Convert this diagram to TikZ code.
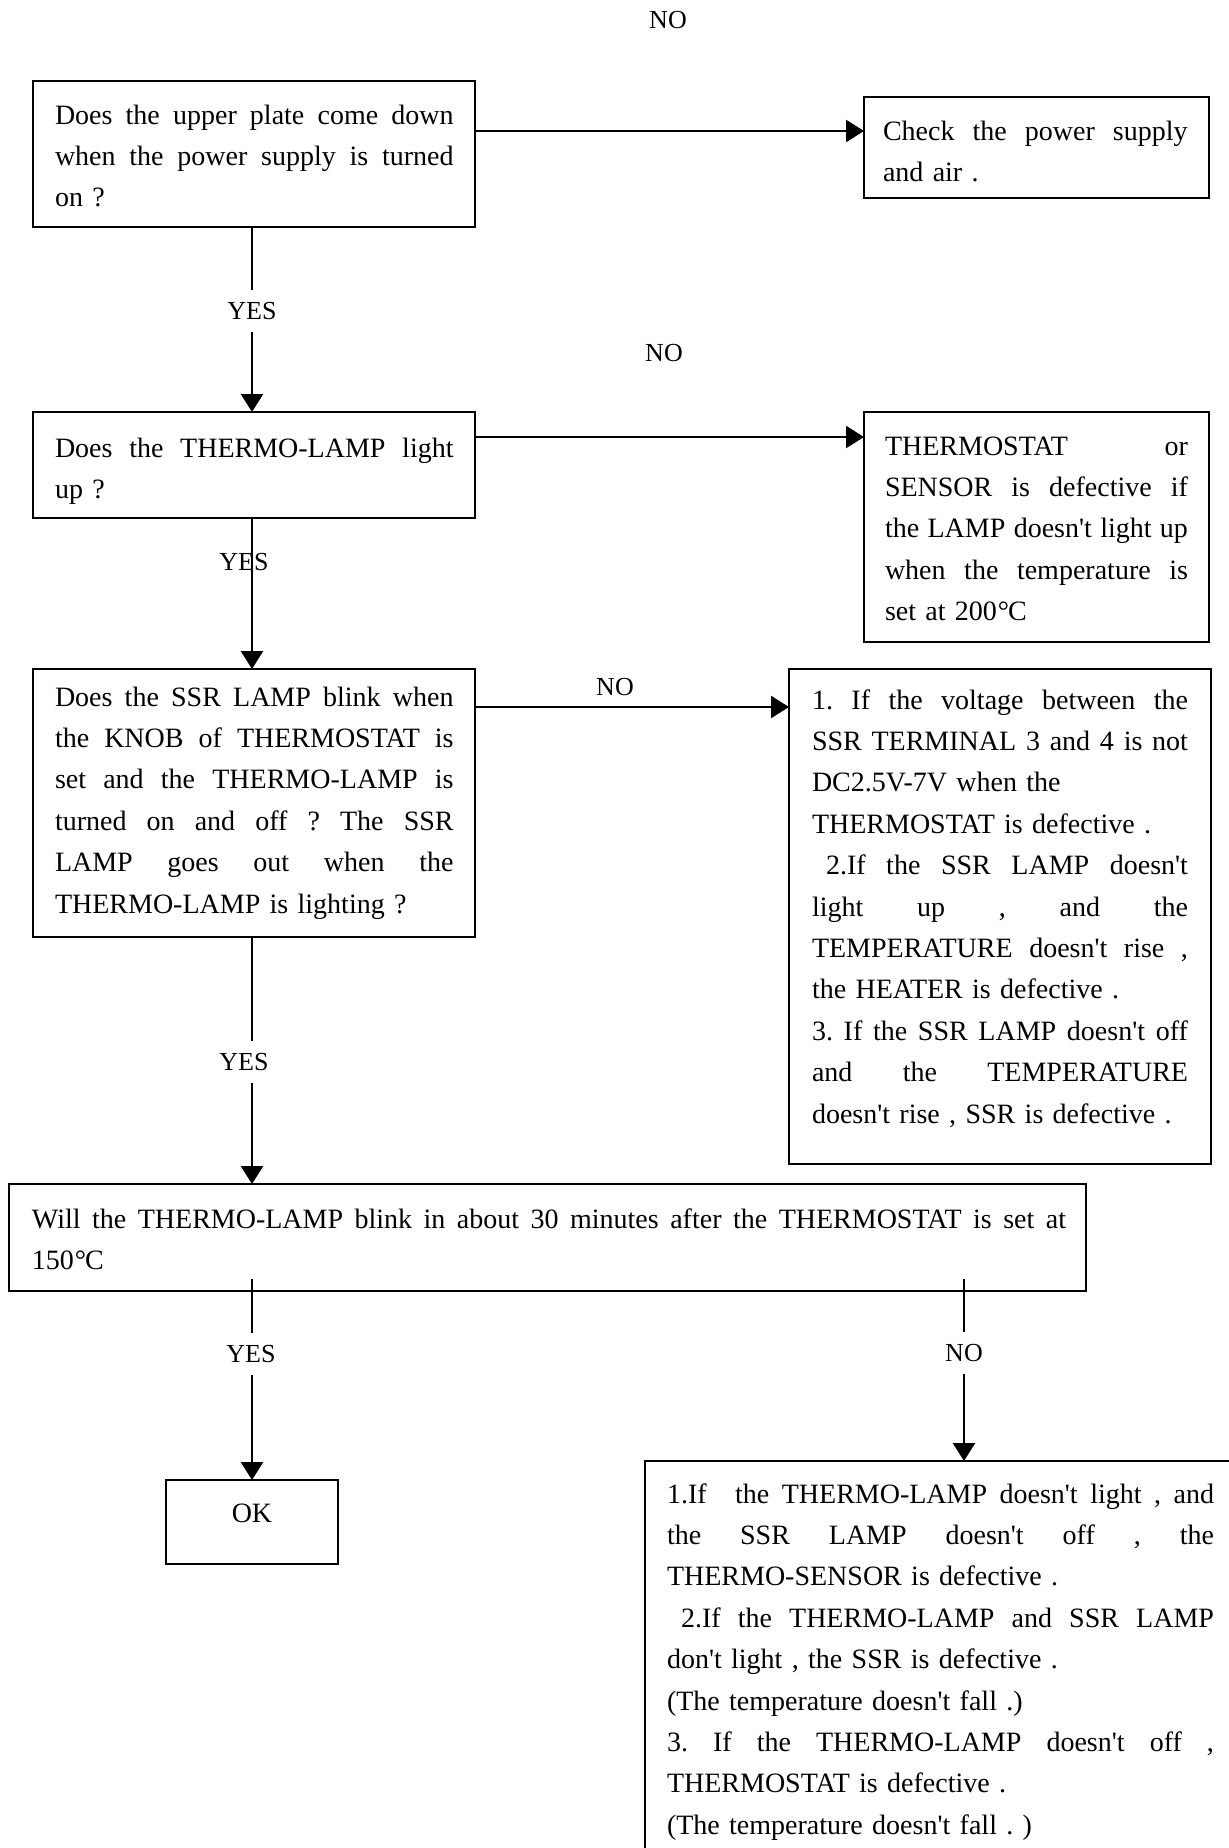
\documentclass[tikz,border=0pt]{standalone}
\usepackage{fontspec}
\setmainfont{Liberation Serif}
\usetikzlibrary{arrows.meta}
\frenchspacing
\newcommand\jl[1]{\leavevmode\hbox to \hsize{\spaceskip=0.25em plus 1fil\relax #1}}
\newcommand\degC{\kern0.5pt°\kern-0.5pt C}
\newcommand\ap{\textquotesingle}
\begin{document}
\begin{tikzpicture}[x=0.5pt,y=-0.5pt,
  box/.style={draw, line width=1.4pt, inner sep=0pt, outer sep=0pt, anchor=north west},
  txt/.style={anchor=base west, inner sep=0pt, outer sep=0pt, align=left, font=\fontsize{14pt}{20.7pt}\selectfont\frenchspacing},
  lbl/.style={font=\fontsize{13pt}{15pt}\selectfont, inner sep=0pt},
  gap/.style={lbl, fill=white, inner ysep=6pt, inner xsep=1pt},
  conn/.style={line width=1.3pt},
  arr/.style={conn, -{Triangle[length=9pt,width=11pt]}}]
\path[use as bounding box] (0,0) rectangle (1229,1848);
\clip (0,0) rectangle (1229,1848);

% boxes
\node[box, minimum width=221pt, minimum height=73pt] (b1) at (33,81) {};
\node[box, minimum width=172.5pt, minimum height=50.5pt] (b2) at (864,97) {};
\node[box, minimum width=221pt, minimum height=53pt] (b3) at (33,412) {};
\node[box, minimum width=172.5pt, minimum height=115pt] (b4) at (864,412) {};
\node[box, minimum width=221pt, minimum height=134pt] (b5) at (33,669) {};
\node[box, minimum width=211pt, minimum height=247.5pt] (b6) at (789,669) {};
\node[box, minimum width=538.5pt, minimum height=53.5pt] (b7) at (9,1184) {};
\node[box, minimum width=86pt, minimum height=42pt] (ok) at (166,1480) {};
\node[box, minimum width=300pt, minimum height=210pt] (b9) at (645,1461) {};

% texts
\node[txt, text width=199.3pt] (t1) at (55,124) {\jl{Does the upper plate come down}\\
\jl{when the power supply is turned}\\
on ?};
\node[txt, text width=152.3pt] (t2) at (883,140) {\jl{Check the power supply}\\
and air .};
\node[txt, text width=199.3pt] (t3) at (55,457) {\jl{Does the THERMO-LAMP light}\\
up ?};
\node[txt, text width=151.5pt] (t4) at (885,455) {\jl{THERMOSTAT or}\\
\jl{SENSOR is defective if}\\
\jl{the LAMP doesn\ap t light up}\\
\jl{when the temperature is}\\
set at 200\degC};
\node[txt, text width=199.3pt] (t5) at (55,706) {\jl{Does the SSR LAMP blink when}\\
\jl{the KNOB of THERMOSTAT is}\\
\jl{set and the THERMO-LAMP is}\\
\jl{turned on and off ? The SSR}\\
\jl{LAMP goes out when the}\\
THERMO-LAMP is lighting ?};
\node[txt, text width=188pt] (t6) at (812,709) {\jl{1. If the voltage between the}\\
\jl{SSR TERMINAL 3 and 4 is not}\\
DC2.5V-7V when the\\
THERMOSTAT is defective .\\
\jl{\hspace*{7pt}2.If the SSR LAMP doesn\ap t}\\
\jl{light up , and the}\\
\jl{TEMPERATURE doesn\ap t rise ,}\\
the HEATER is defective .\\
\jl{3. If the SSR LAMP doesn\ap t off}\\
\jl{and the TEMPERATURE}\\
doesn\ap t rise , SSR is defective .};
\node[txt, text width=517pt] (t7) at (32,1228) {\jl{Will the THERMO-LAMP blink in about 30 minutes after the THERMOSTAT is set at}\\
150\degC};
\node[font=\fontsize{14pt}{16pt}\selectfont, inner sep=0pt] (okt) at (252,1513) {OK};
\node[txt, text width=273.5pt] (t9) at (667,1503) {\jl{1.If\hspace{8pt} the THERMO-LAMP doesn\ap t light , and}\\
\jl{the SSR LAMP doesn\ap t off , the}\\
THERMO-SENSOR is defective .\\
\jl{\hspace*{7pt}2.If the THERMO-LAMP and SSR LAMP}\\
don\ap t light , the SSR is defective .\\
(The temperature doesn\ap t fall .)\\
\jl{3. If the THERMO-LAMP doesn\ap t off ,}\\
THERMOSTAT is defective .\\
(The temperature doesn\ap t fall . )};

% connectors
\coordinate (y1) at (0,131);
\coordinate (y2) at (0,437);
\coordinate (y3) at (0,707);
\coordinate (xl) at (252,0);
\coordinate (xr) at (964,0);
\coordinate (b7s) at ([yshift=6pt]b7.south);
\draw[arr] (b1.east |- y1) -- (b2.west |- y1);
\draw[arr] (b3.east |- y2) -- (b4.west |- y2);
\draw[arr] (b5.east |- y3) -- (b6.west |- y3);
\draw[arr] (b1.south -| xl) -- (b3.north -| xl);
\draw[arr] (b3.south -| xl) -- (b5.north -| xl);
\draw[arr] (b5.south -| xl) -- (b7.north -| xl);
\draw[arr] (b7s -| ok.north) -- (ok.north);
\draw[arr] (b7s -| xr) -- (b9.north -| xr);

% labels
\node[lbl] (no1) at (668,20) {NO};
\node[lbl] (no2) at (664,353) {NO};
\node[lbl] (no3) at (615,687) {NO};
\node[gap] (yes1) at (252,311) {YES};
\node[lbl] (yes2) at (244,562) {YES};
\node[gap] (yes3) at (244,1062) {YES};
\node[gap] (yes4) at (251,1354) {YES};
\node[gap] (no4) at (964,1353) {NO};
\end{tikzpicture}
\end{document}
